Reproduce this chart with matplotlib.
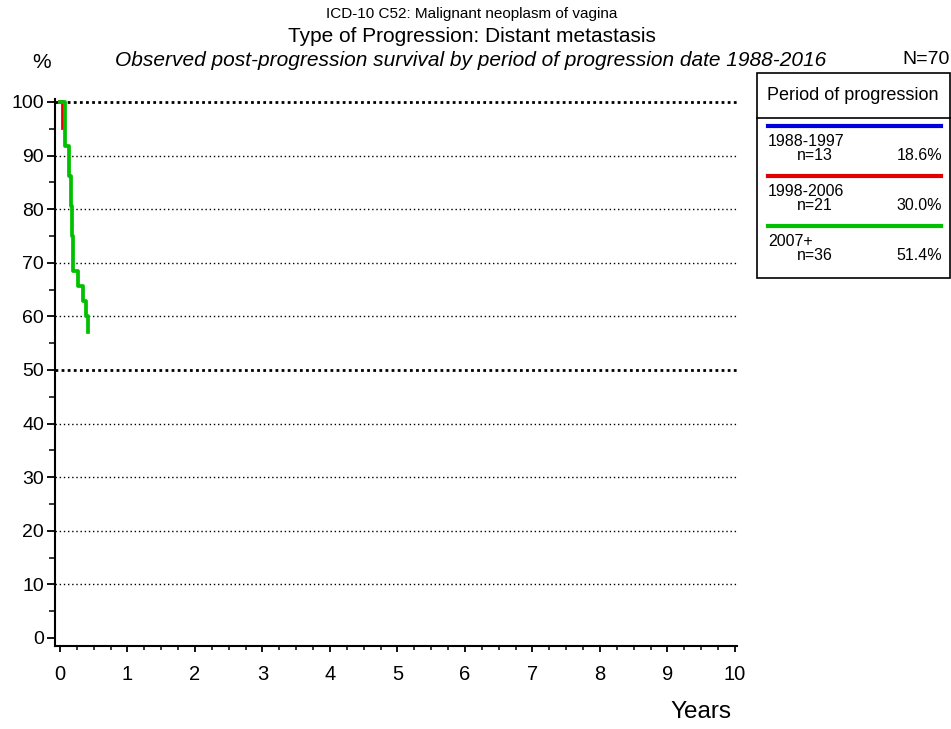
import numpy as np
import matplotlib.pyplot as plt
from matplotlib.patches import Rectangle
from matplotlib.lines import Line2D

plt.rcParams['font.family'] = ['Liberation Sans', 'DejaVu Sans']

# survival curves (years, % surviving)
periods = ['1988-1997', '1998-2006', '2007+']
counts = [13, 21, 36]
shares = ['18.6%', '30.0%', '51.4%']
colors = ['#0000dd', '#e00000', '#00c000']

t_blue = []
s_blue = []
t_red = [0.0, 0.04, 0.045]
s_red = [100.0, 95.2, 95.2]
t_green = [0.0, 0.07, 0.14, 0.16, 0.18, 0.2, 0.26, 0.34, 0.39, 0.41]
s_green = [100.0, 91.7, 86.1, 80.6, 75.0, 68.5, 65.7, 62.9, 60.0, 57.1]

W, H = 951, 729
fig = plt.figure(figsize=(W / 100, H / 100), dpi=100)
ax = fig.add_axes([55 / W, 83 / H, 682 / W, 546.7 / H])
ax.set_xlim(-0.074, 10.03)
ax.set_ylim(-1.5, 100.5)

# horizontal dotted grid
for y in range(10, 101, 10):
    if y in (50, 100):
        ax.axhline(y, color='black', linestyle=(0, (1, 1.2)), lw=2.0, zorder=1)
    else:
        ax.axhline(y, color='black', linestyle=(0, (1, 2)), lw=1.0, zorder=1)

for t, s, c in zip([t_blue, t_red, t_green], [s_blue, s_red, s_green], colors):
    if t:
        ax.step(t, s, where='post', color=c, lw=2.7, zorder=3)

for sp in ['top', 'right']:
    ax.spines[sp].set_visible(False)
for sp in ['left', 'bottom']:
    ax.spines[sp].set_linewidth(1.5)

ax.set_xticks(range(0, 11))
ax.set_xticks(np.arange(0, 10.01, 0.25), minor=True)
ax.set_yticks(range(0, 101, 10))
ax.set_yticks(range(5, 100, 10), minor=True)
ax.tick_params(axis='y', which='major', length=6, width=1.3, labelsize=14, pad=2)
ax.tick_params(axis='y', which='minor', length=4, width=1.1)
ax.tick_params(axis='x', which='major', length=4, width=1.3, labelsize=14.5, pad=10)
ax.tick_params(axis='x', which='minor', length=3, width=1.1)

# titles
fig.text(472 / W, 1 - 14 / H, 'ICD-10 C52: Malignant neoplasm of vagina',
         ha='center', va='center', fontsize=11)
fig.text(472 / W, 1 - 37 / H, 'Type of Progression: Distant metastasis',
         ha='center', va='center', fontsize=15)
fig.text(471 / W, 1 - 60 / H, 'Observed post-progression survival by period of progression date 1988-2016',
         ha='center', va='center', fontsize=15, style='italic')
fig.text(42 / W, 1 - 62 / H, '%', ha='center', va='center', fontsize=15)
fig.text(950 / W, 1 - 60 / H, 'N=70', ha='right', va='center', fontsize=14)
fig.text(701 / W, 1 - 712 / H, 'Years', ha='center', va='center', fontsize=17.5)

# legend box
bx0, bx1, by0, by1 = 757, 950, 73, 278
fig.add_artist(Rectangle((bx0 / W, 1 - by1 / H), (bx1 - bx0) / W, (by1 - by0) / H,
                         transform=fig.transFigure, fill=False, ec='black', lw=1.2))
fig.add_artist(Line2D([bx0 / W, bx1 / W], [1 - 118 / H, 1 - 118 / H],
                      transform=fig.transFigure, color='black', lw=1.2))
fig.text(853 / W, 1 - 96 / H, 'Period of progression', ha='center', va='center', fontsize=13)
for i, (p, n, sh, c) in enumerate(zip(periods, counts, shares, colors)):
    y0 = 126 + i * 50
    fig.add_artist(Line2D([768 / W, 941 / W], [1 - y0 / H, 1 - y0 / H],
                          transform=fig.transFigure, color=c, lw=3))
    fig.text(768 / W, 1 - (y0 + 15) / H, p, ha='left', va='center', fontsize=11.5)
    fig.text(797 / W, 1 - (y0 + 29) / H, f'n={n}', ha='left', va='center', fontsize=11.5)
    fig.text(942 / W, 1 - (y0 + 29) / H, sh, ha='right', va='center', fontsize=11.5)

fig.savefig('out.png', dpi=100)
